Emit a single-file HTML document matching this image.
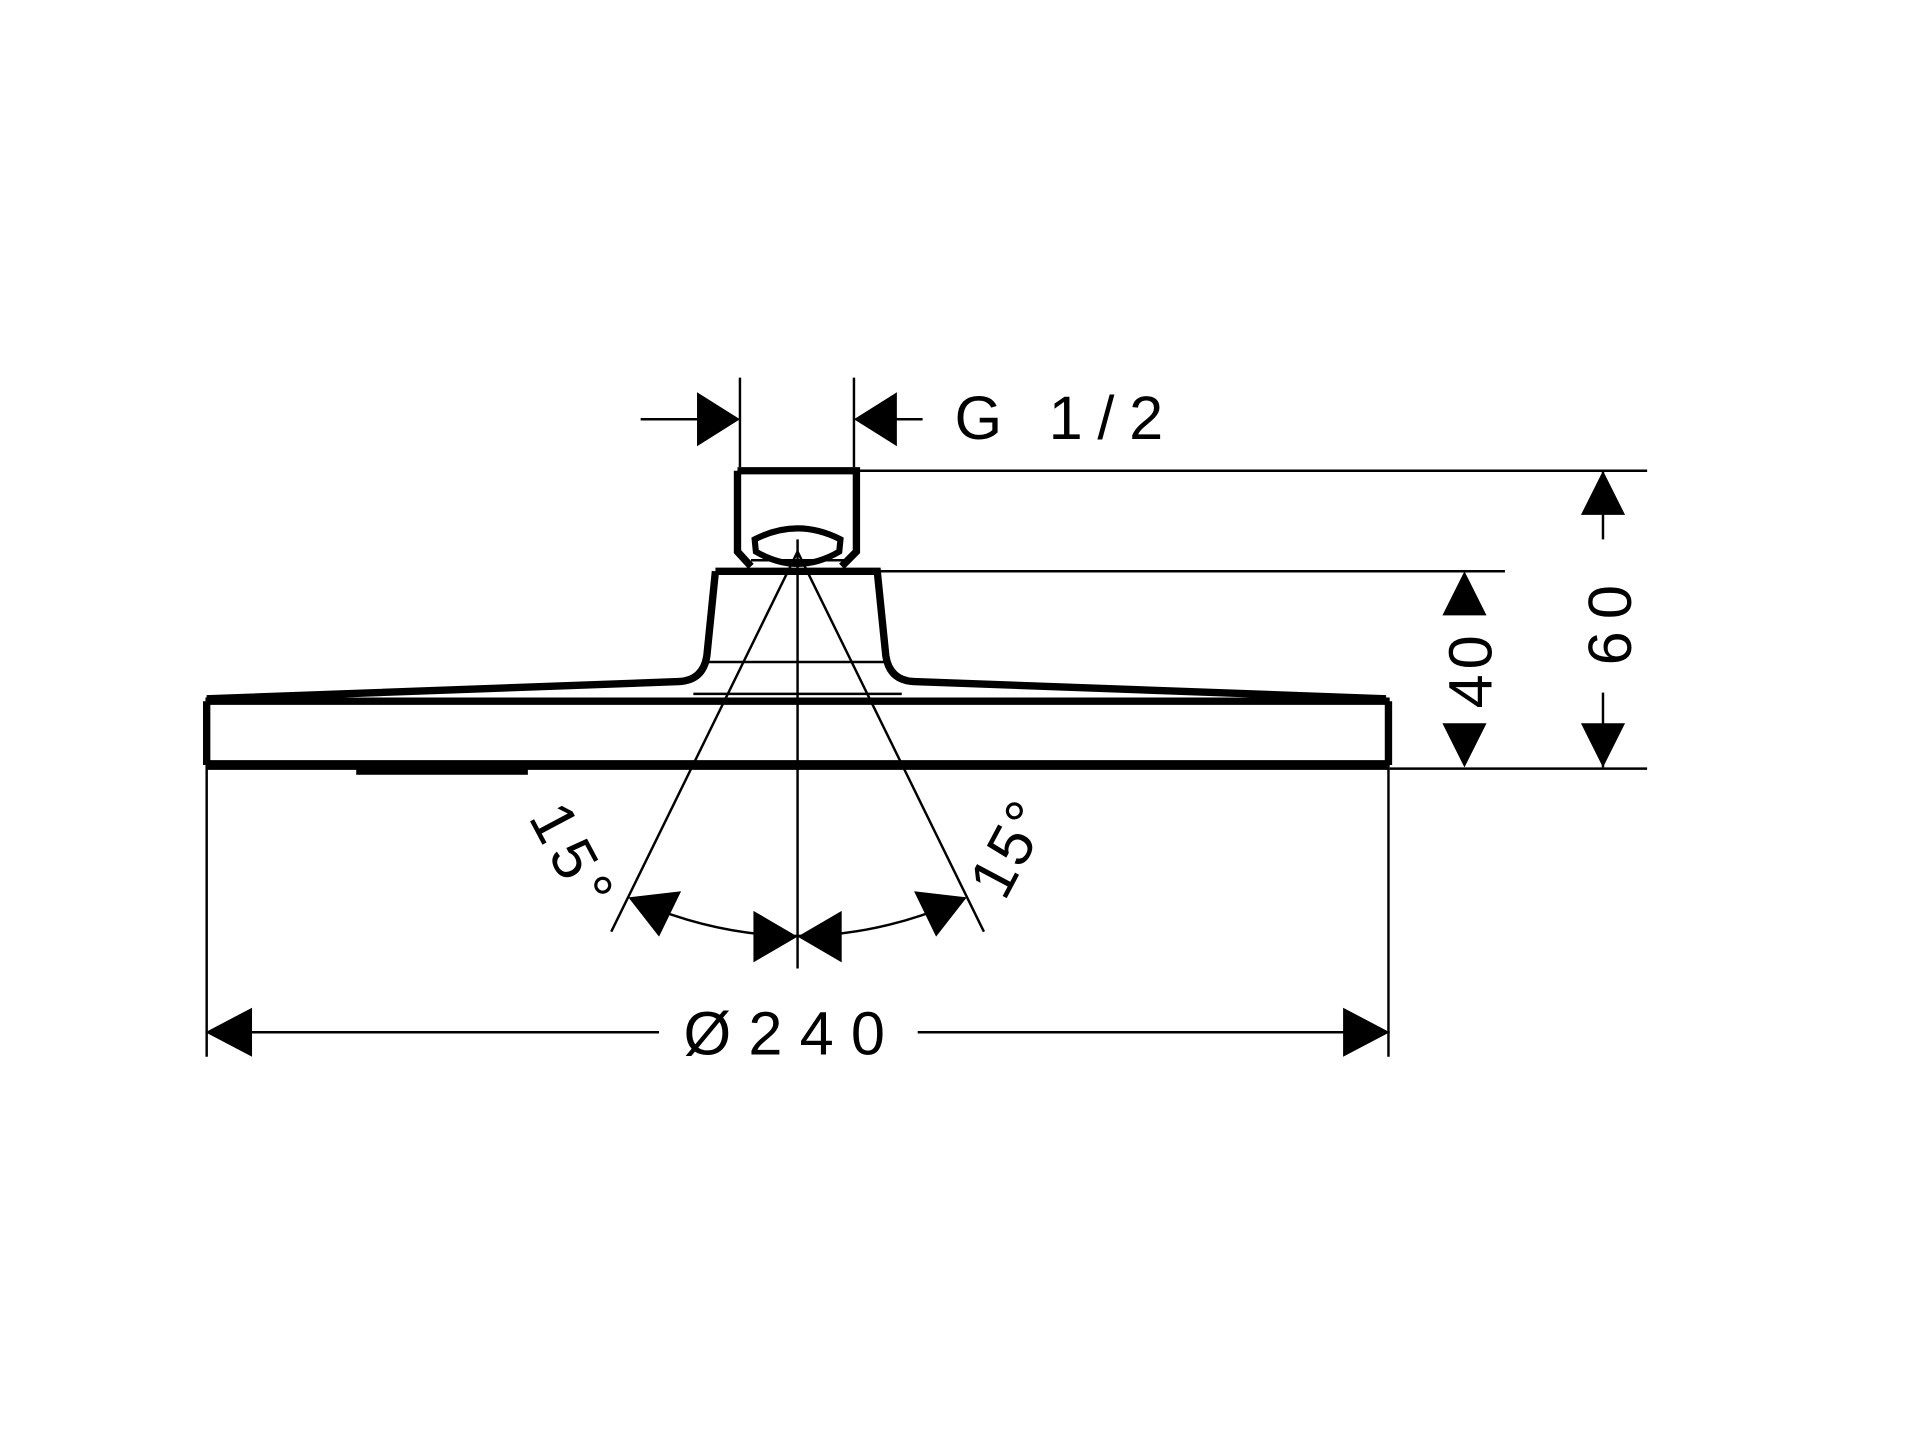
<!DOCTYPE html>
<html><head><style>html,body{margin:0;padding:0;background:#fff}svg{display:block}</style></head>
<body>
<svg width="1920" height="1438" viewBox="0 0 1565 1173" xmlns="http://www.w3.org/2000/svg" font-family="Liberation Sans, sans-serif">
<rect width="1565" height="1173" fill="#fff"/>
<g stroke="#000" fill="none">
<line x1="522" y1="342" x2="570" y2="342" stroke-width="2"/>
<line x1="603" y1="308" x2="603" y2="381" stroke-width="2"/>
<line x1="696" y1="308" x2="696" y2="381" stroke-width="2"/>
<line x1="730" y1="342" x2="752" y2="342" stroke-width="2"/>
<path d="M601 384 H698 V450 L686 462 M601 384 V450 L612 462" stroke-width="6"/>
<path d="M615 440 Q650 422 685 440 L684 450 Q650 470 616 450 Z" stroke-width="5"/>
<line x1="612" y1="457" x2="688" y2="457" stroke-width="2"/>
<path d="M583 466 H715 L722 535 Q725 555 745 556 L1130 570" stroke-width="6"/>
<path d="M583 466 L576 535 Q573 555 553 556 L168 570" stroke-width="6"/>
<line x1="575" y1="540" x2="724" y2="540" stroke-width="2"/>
<line x1="565" y1="566" x2="735" y2="566" stroke-width="2"/>
<path d="M168 572 V624 M1132 572 V624" stroke-width="6"/>
<line x1="167" y1="572" x2="1133" y2="572" stroke-width="6"/>
<line x1="167" y1="624" x2="1133" y2="624" stroke-width="8"/>
<line x1="698" y1="384" x2="1343" y2="384" stroke-width="2"/>
<line x1="715" y1="466" x2="1227" y2="466" stroke-width="2"/>
<line x1="1133" y1="627" x2="1343" y2="627" stroke-width="2"/>
<line x1="168" y1="627" x2="168" y2="862" stroke-width="2"/>
<line x1="1132" y1="627" x2="1132" y2="862" stroke-width="2"/>
<line x1="1307" y1="384" x2="1307" y2="440" stroke-width="2"/>
<line x1="1307" y1="565" x2="1307" y2="626" stroke-width="2"/>
<line x1="167" y1="842" x2="537" y2="842" stroke-width="2"/>
<line x1="748" y1="842" x2="1133" y2="842" stroke-width="2"/>
<line x1="650" y1="440" x2="650" y2="790" stroke-width="2"/>
<line x1="650" y1="450" x2="498" y2="760" stroke-width="2"/>
<line x1="650" y1="450" x2="802" y2="760" stroke-width="2"/>
<path d="M523 737 Q650 790 777 737" stroke-width="2"/>
</g>
<g fill="#000">
<polygon points="568,320 603,342 568,364"/>
<polygon points="731,320 696,342 731,364"/>
<polygon points="1307,384 1289,420 1325,420"/>
<polygon points="1307,626 1289,590 1325,590"/>
<polygon points="1194,466 1176,502 1212,502"/>
<polygon points="1194,626 1176,590 1212,590"/>
<polygon points="167,842 205,822 205,862"/>
<polygon points="1133,842 1095,822 1095,862"/>
<polygon points="512,732 555,727 537,764"/>
<polygon points="788,732 745,727 763,764"/>
<polygon points="650,764 614,743 614,785"/>
<polygon points="650,764 686,743 686,785"/>
<rect x="290" y="626" width="140" height="6"/>
</g>
<g fill="#000" font-size="50">
<text x="778" y="358" letter-spacing="12">G 1/2</text>
<text x="557" y="860" letter-spacing="14">Ø240</text>
<text transform="translate(1330,505) rotate(-90)" text-anchor="middle" letter-spacing="10">60</text>
<text transform="translate(1216,546) rotate(-90)" text-anchor="middle" letter-spacing="4">40</text>
<text transform="translate(452,708) rotate(62)" text-anchor="middle" letter-spacing="6">15°</text>
<text transform="translate(838,700) rotate(-62)" text-anchor="middle" letter-spacing="2">15°</text>
</g>
</svg>
</body></html>
